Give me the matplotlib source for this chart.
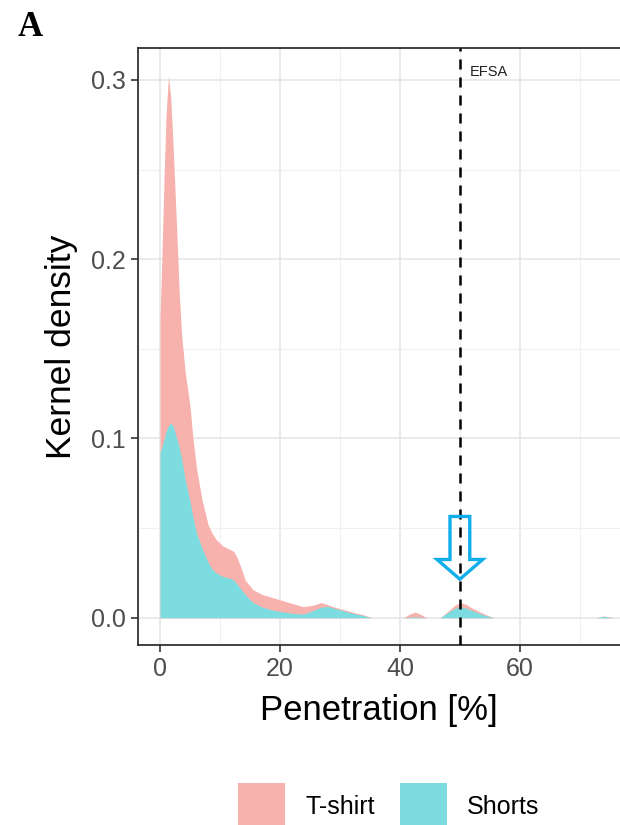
import numpy as np
import matplotlib
matplotlib.use('Agg')
import matplotlib.pyplot as plt
from matplotlib.patches import Patch, FancyArrow

plt.rcParams['font.family'] = ['Liberation Sans', 'DejaVu Sans']

# kernel density (T-shirt is the upper, stacked curve)
pen = [0, 0.3, 0.7, 1.0, 1.4, 1.8, 2.2, 2.8, 3.2, 3.6, 4.2, 5.0, 5.5, 6.1,
       7.0, 8.0, 8.7, 9.4, 10.5, 11.7, 12.3, 12.8, 13.5, 14.2, 15.5, 17, 18.5,
       20, 22, 23.9, 25.5, 26.9, 28, 29.4, 31, 32.5, 33.9, 35.3, 40, 40.6,
       41.6, 42.5, 43.5, 44.5, 46.7, 48, 49, 50, 51, 52, 54, 55.6, 72.8, 74,
       75.5]
tshirt = [0.167, 0.2, 0.248, 0.28, 0.302, 0.29, 0.262, 0.215, 0.182, 0.158,
          0.137, 0.118, 0.1, 0.083, 0.066, 0.052, 0.047, 0.0435, 0.040, 0.038,
          0.037, 0.034, 0.028, 0.021, 0.0156, 0.013, 0.0115, 0.010, 0.008,
          0.0062, 0.007, 0.0085, 0.0072, 0.0056, 0.0042, 0.0028, 0.0017, 0,
          0, 0, 0.002, 0.0032, 0.0018, 0, 0, 0.0035, 0.0065, 0.0085, 0.0075,
          0.0055, 0.0022, 0, 0, 0.001, 0]
shorts = [0.092, 0.095, 0.1, 0.104, 0.107, 0.1086, 0.107, 0.1, 0.095, 0.089,
          0.077, 0.065, 0.056, 0.047, 0.039, 0.031, 0.027, 0.025, 0.023,
          0.022, 0.021, 0.019, 0.016, 0.013, 0.0085, 0.006, 0.0045, 0.0035,
          0.0025, 0.002, 0.004, 0.006, 0.0063, 0.005, 0.0035, 0.0022, 0.0012,
          0, 0, 0, 0.0003, 0.0005, 0.0003, 0, 0, 0.0028, 0.005, 0.0063,
          0.0055, 0.004, 0.0015, 0, 0, 0.0008, 0]
efsa = 50
labels = ['T-shirt', 'Shorts']
colors = ['#F8B2AD', '#7CDCDF']

fig = plt.figure(figsize=(6.2, 8.25), dpi=100)
ax = fig.add_axes([138 / 620, 180 / 825, 482 / 620, 597 / 825])

ax.fill_between(pen, 0, tshirt, color=colors[0], lw=0, zorder=2)
ax.fill_between(pen, 0, shorts, color=colors[1], lw=0, zorder=3)
ax.axvline(efsa, color='black', ls=(0, (4, 3.2)), lw=1.8, zorder=4)
ax.text(efsa + 1.6, 0.3045, 'EFSA', fontsize=10.5, color='#222222',
        va='center', ha='left')

# blue outline arrow pointing at the EFSA bump
arr = FancyArrow(efsa, 0.0565, 0, -0.035, width=3.3, head_width=7.6,
                 head_length=0.011, length_includes_head=True,
                 facecolor='none', edgecolor='#10AEEB', lw=2.4, zorder=5)
ax.add_patch(arr)

ax.set_xlim(-3.67, 76.7)
ax.set_ylim(-0.0152, 0.3178)
ax.set_xticks([0, 20, 40, 60])
ax.set_xticks([10, 30, 50, 70], minor=True)
ax.set_yticks([0, 0.1, 0.2, 0.3])
ax.set_yticks([0.05, 0.15, 0.25], minor=True)
ax.set_yticklabels(['0.0', '0.1', '0.2', '0.3'])
ax.grid(True, which='major', color='#E6E6E6', lw=1.2, zorder=0)
ax.grid(True, which='minor', color='#F0F0F0', lw=0.8, zorder=0)
ax.set_axisbelow(True)
ax.tick_params(which='major', length=5, width=1.2, color='#333333',
               labelsize=18, labelcolor='#4D4D4D', pad=4)
ax.tick_params(which='minor', length=0)
for s in ['left', 'top', 'bottom']:
    ax.spines[s].set_color('#333333')
    ax.spines[s].set_linewidth(1.3)
ax.spines['right'].set_visible(False)

ax.set_xlabel('Penetration [%]', fontsize=25, labelpad=9)
ax.set_ylabel('Kernel density', fontsize=25.5, labelpad=9)

fig.text(18 / 620, 1 - 28 / 825, 'A', fontsize=25, fontweight='bold',
         family='Liberation Serif', va='center', ha='left')

handles = [Patch(facecolor=c, edgecolor='none') for c in colors]
fig.legend(handles, labels, loc='center', bbox_to_anchor=(0.627, 0.022),
           ncol=2, frameon=False, fontsize=18, handlelength=1.9,
           handleheight=2.6, handletextpad=0.8, columnspacing=1.0)

fig.savefig('out.png', dpi=100)
